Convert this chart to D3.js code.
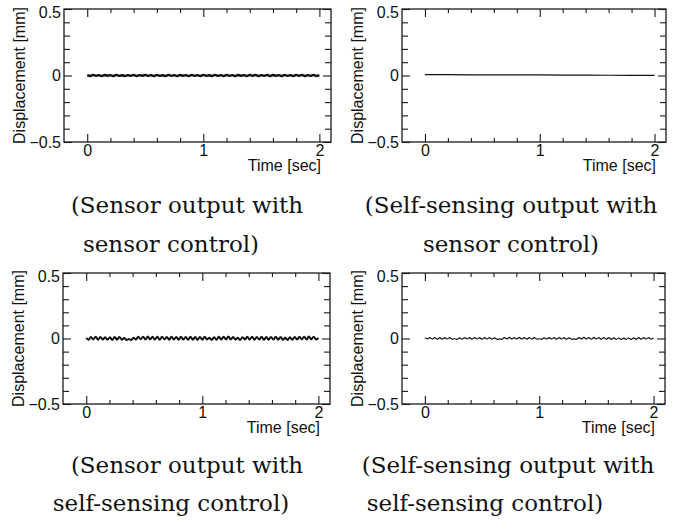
<!DOCTYPE html>
<html>
<head>
<meta charset="utf-8">
<script src="https://cdn.jsdelivr.net/npm/d3@7"></script>
<style>
  html, body { margin: 0; padding: 0; background: #fff; }
  svg { display: block; }
</style>
</head>
<body>
<div class="top"></div>
<script>

const sensorSensorCtl = [
  0.002,-0.004,0.004,-0.003,0.003,-0.004,0.004,-0.002,0.003,-0.004,
  0.004,-0.003,0.002,-0.004,0.003,-0.003,0.004,-0.004,0.003,-0.002,
  0.004,-0.003,0.003,-0.004,0.004,-0.003,0.002,-0.004,0.004,-0.003,
  0.003,-0.004,0.004,-0.002,0.003,-0.004,0.004,-0.003,0.003,-0.004,
  0.004,-0.003,0.002,-0.004,0.004,-0.003,0.003,-0.004,0.004,-0.003,
  0.003,-0.004,0.004,-0.002,0.003,-0.004,0.004,-0.003,0.004,-0.004,
  0.003,-0.003,0.004,-0.004,0.004,-0.002,0.003,-0.004,0.004,-0.003,
  0.003,-0.004,0.004,-0.003,0.004,-0.004,0.003,-0.003,0.004,-0.004,
  0.002
];

const selfSensorCtl = [0.006, 0.006, 0.005, 0.005, 0.004, 0.004, 0.003, 0.003, 0.002, 0.001, 0.001];

const sensorSelfCtl = [
  0.004,-0.009,0.011,-0.007,0.013,-0.009,0.012,-0.008,0.010,-0.010,
  0.009,-0.011,0.011,-0.009,0.012,-0.010,0.004,-0.011,-0.004,-0.012,
  0.006,-0.007,0.013,-0.006,0.014,-0.007,0.015,-0.007,0.013,-0.008,
  0.014,-0.009,0.013,-0.007,0.012,-0.009,0.014,-0.008,0.011,-0.009,
  0.013,-0.008,0.012,-0.010,0.013,-0.009,0.011,-0.010,0.012,-0.009,
  0.013,-0.007,0.005,-0.011,0.010,-0.009,0.013,-0.008,0.014,-0.007,
  0.015,-0.008,0.012,-0.009,0.006,-0.011,0.010,-0.007,0.013,-0.008,
  0.014,-0.009,0.012,-0.008,0.013,-0.010,0.011,-0.009,0.012,-0.008,
  0.013,-0.009,0.011,-0.009,0.005,-0.011,0.009,-0.010,0.012,-0.008,
  0.013,-0.007,0.014,-0.008,0.015,-0.006,0.014,-0.007,0.004
];

const selfSelfCtl = [
  0.005,-0.003,0.006,-0.004,0.007,-0.005,0.006,-0.005,0.007,-0.004,
  0.006,-0.005,-0.002,-0.006,0.005,-0.005,0.007,-0.004,0.006,-0.005,
  0.007,-0.004,0.006,-0.005,0.007,-0.004,0.006,-0.005,0.005,-0.006,
  -0.003,-0.006,0.006,-0.003,0.008,-0.003,0.007,-0.004,0.008,-0.004,
  0.007,-0.005,0.006,-0.004,0.007,-0.005,-0.002,-0.006,0.005,-0.004,
  0.007,-0.004,0.006,-0.005,0.007,-0.004,0.006,-0.005,0.005,-0.006,
  -0.003,-0.006,0.006,-0.003,0.008,-0.004,0.007,-0.005,0.008,-0.004,
  0.006,-0.006,0.007,-0.005,0.006,-0.006,0.005,-0.006,0.004,-0.007,
  0.003,-0.006,0.004,-0.007,0.005,-0.006,0.006,-0.005,0.007,-0.004,
  0.006,-0.005,0.003
];

const xMajor = [0, 1, 2];
const xMinor = [0.2, 0.4, 0.6, 0.8, 1.2, 1.4, 1.6, 1.8];
const yMajor = [-0.5, 0, 0.5];
const yMinor = [-0.4, -0.3, -0.2, -0.1, 0.1, 0.2, 0.3, 0.4];
const yTickLabels = ['\u22120.5', '0', '0.5'];
const duration = 2;

// --- layout ---
const W = 678, H = 521;
const sans = "'Liberation Sans', Arial, Helvetica, sans-serif";
const serif = "'DejaVu Serif', serif";

const panels = [
  { values: sensorSensorCtl, width: 2.4, curve: d3.curveLinear,
    box: [64, 9, 331, 142],
    caption: [['(Sensor output with', 187, 213], ['sensor control)', 171, 252]] },
  { values: selfSensorCtl, width: 1.2, curve: d3.curveLinear,
    box: [402, 9, 666, 142],
    caption: [['(Self-sensing output with', 511, 213], ['sensor control)', 511, 252]] },
  { values: sensorSelfCtl, width: 2.0, curve: d3.curveCardinal,
    box: [63, 273, 330, 404],
    caption: [['(Sensor output with', 187, 473], ['self-sensing control)', 171, 511]] },
  { values: selfSelfCtl, width: 1.2, curve: d3.curveCardinal,
    box: [402, 273, 665, 404],
    caption: [['(Self-sensing output with', 508, 473], ['self-sensing control)', 485, 511]] }
];

const svg = d3.select('.top').append('svg')
  .attr('width', W).attr('height', H);

panels.forEach(p => {
  const [x0, y0, x1, y1] = p.box;
  const x = d3.scaleLinear().domain([-0.2, 2.1]).range([x0, x1]);
  const y = d3.scaleLinear().domain([-0.5, 0.5]).range([y1, y0]);
  const dt = duration / (p.values.length - 1);

  const g = svg.append('g');

  // ticks, all pointing inward
  const tickAxis = (axis, tf, vals, size, labels) => {
    g.append('g')
      .attr('transform', tf)
      .call(axis.tickValues(vals).tickSize(size)
        .tickPadding(labels ? 3 : 0)
        .tickFormat(labels ? labels : ''))
      .call(sel => {
        sel.select('.domain').remove();
        sel.selectAll('line').attr('stroke', '#1a1a1a').attr('stroke-width', 1.1);
        sel.selectAll('text')
          .attr('fill', '#111')
          .style('font-family', sans)
          .style('font-size', '16px');
      });
  };

  tickAxis(d3.axisBottom(x), `translate(0,${y1})`, xMinor, -4);
  tickAxis(d3.axisBottom(x), `translate(0,${y1})`, xMajor, -8, d => d3.format('d')(d));
  tickAxis(d3.axisTop(x), `translate(0,${y0})`, xMinor, -4);
  tickAxis(d3.axisTop(x), `translate(0,${y0})`, xMajor, -8);
  tickAxis(d3.axisLeft(y), `translate(${x0},0)`, yMinor, -6);
  tickAxis(d3.axisLeft(y), `translate(${x0},0)`, yMajor, -8, (d, i) => yTickLabels[i]);
  tickAxis(d3.axisRight(y), `translate(${x1},0)`, yMinor, -6);
  tickAxis(d3.axisRight(y), `translate(${x1},0)`, yMajor, -8);

  // top label nudged down like the original
  g.selectAll('text').filter(function () { return this.textContent === '0.5'; })
    .attr('dy', '0.55em');

  // frame
  g.append('rect')
    .attr('x', x0).attr('y', y0)
    .attr('width', x1 - x0).attr('height', y1 - y0)
    .attr('fill', 'none').attr('stroke', '#1a1a1a').attr('stroke-width', 1.3);

  // signal
  g.append('path')
    .datum(p.values)
    .attr('fill', 'none')
    .attr('stroke', '#111')
    .attr('stroke-width', p.width)
    .attr('stroke-linejoin', 'round')
    .attr('d', d3.line()
      .x((d, i) => x(i * dt))
      .y(d => y(d))
      .curve(p.curve));

  // axis titles
  g.append('text')
    .attr('transform', `translate(${x0 - 39},${(y0 + y1) / 2}) rotate(-90)`)
    .attr('text-anchor', 'middle')
    .attr('fill', '#111')
    .style('font-family', sans)
    .style('font-size', '16px')
    .text('Displacement [mm]');

  g.append('text')
    .attr('x', x1 - 10).attr('y', y1 + 29)
    .attr('text-anchor', 'end')
    .attr('fill', '#111')
    .style('font-family', sans)
    .style('font-size', '16px')
    .text('Time [sec]');

  // caption below the panel
  g.selectAll('.caption').data(p.caption)
    .join('text').attr('class', 'caption')
      .attr('x', d => d[1]).attr('y', d => d[2])
      .attr('text-anchor', 'middle')
      .attr('fill', '#111')
      .style('font-family', serif)
      .style('font-size', '23px')
      .text(d => d[0]);
});

</script>
</body>
</html>
